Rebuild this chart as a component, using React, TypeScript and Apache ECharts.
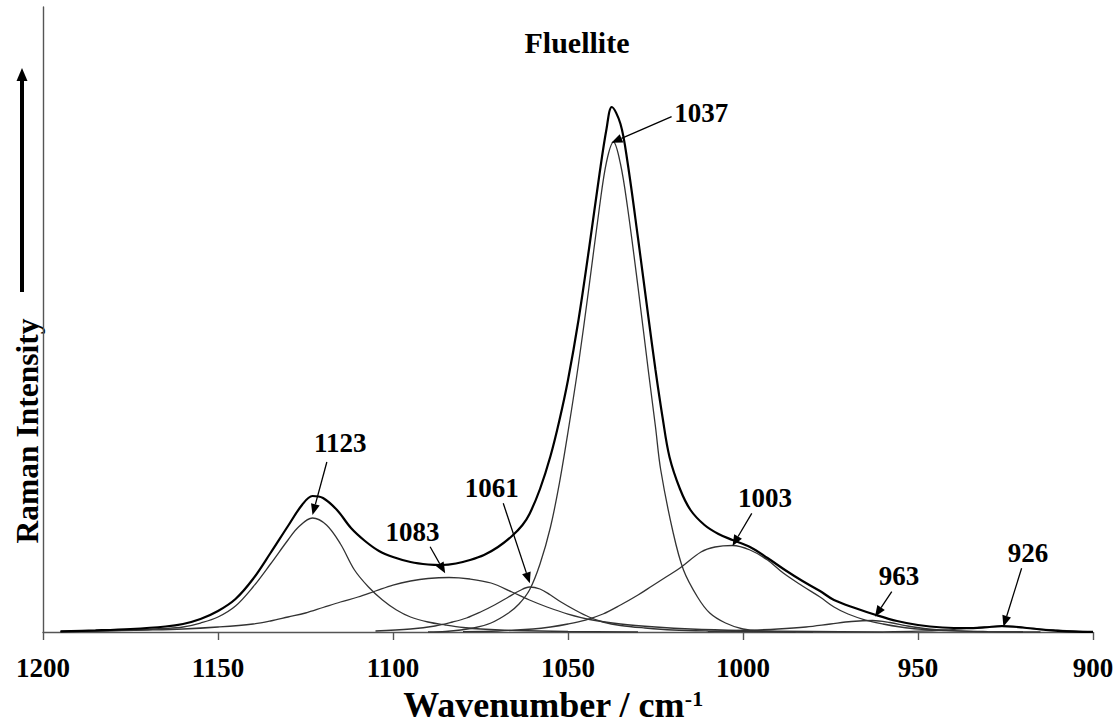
import React, { useEffect, useRef } from "react";
import * as echarts from "echarts";

type Pt = [number, number];

const SERIF = '"Liberation Serif", "Times New Roman", serif';

// Fitted band components: [wavenumber / cm-1, intensity (a.u.)]
const band1123: Pt[] = [
  [1195, 0.3], [1185, 1], [1175, 2], [1165, 3.5], [1160, 5], [1155, 9], [1150, 15], [1145, 26],
  [1140, 45], [1135, 68], [1130, 92], [1127, 105], [1123, 114], [1119, 107], [1115, 88], [1111, 62],
  [1107, 45], [1103, 32], [1099, 22], [1095, 15], [1090, 10], [1085, 7], [1080, 4.5], [1075, 3],
  [1065, 1.5], [1050, 0.5], [1030, 0],
];

const band1083: Pt[] = [
  [1195, 0.5], [1185, 1], [1170, 2], [1160, 3], [1150, 5], [1140, 8], [1135, 11], [1130, 15],
  [1125, 19], [1120, 24.5], [1115, 30], [1110, 35], [1105, 41], [1100, 47], [1095, 51], [1090, 53.5],
  [1084, 54.5], [1078, 53], [1072, 49], [1066, 40], [1061, 32], [1056, 25], [1050, 18], [1043, 12],
  [1035, 8], [1025, 5], [1015, 3], [1000, 1.5], [980, 0.5], [960, 0],
];

const band1061: Pt[] = [
  [1105, 1], [1095, 3], [1088, 6], [1083, 10], [1079, 14], [1075, 20], [1071, 27], [1067, 35],
  [1064, 41], [1061, 45], [1058, 43], [1055, 37], [1052, 30], [1048, 22], [1044, 15], [1040, 10],
  [1035, 6.5], [1028, 4], [1020, 2], [1010, 1], [995, 0.3], [980, 0],
];

const band1037: Pt[] = [
  [1090, 0], [1085, 0.5], [1077, 4], [1072, 9], [1067, 19], [1064, 28], [1061, 42], [1058, 68],
  [1055, 105], [1052.5, 148], [1050, 200], [1047, 268], [1044, 345], [1041, 425], [1039, 470],
  [1037, 490], [1035, 468], [1033, 425], [1030, 345], [1027, 260], [1025, 205], [1023.5, 162],
  [1020, 100], [1017, 62], [1013, 35], [1009.5, 19], [1005, 9], [1000, 3], [995, 1], [985, 0],
];

const band1003: Pt[] = [
  [1080, 0.3], [1070, 1], [1060, 3], [1055, 5], [1050, 8], [1045, 12], [1040, 18], [1035, 27],
  [1030, 37], [1026, 46], [1022, 55], [1018, 64], [1012, 80], [1008, 85], [1003, 86.5], [998, 82],
  [993, 72], [988.5, 59], [983, 46], [978, 35], [974, 25], [970, 18], [965, 12], [960, 8],
  [955, 5], [950, 3], [940, 1.2], [930, 0.4], [915, 0],
];

const band963: Pt[] = [
  [1010, 0.5], [1000, 1.5], [990, 3], [982, 5], [975, 8], [969, 10.5], [963, 11.5], [958, 9.5],
  [953, 6], [947, 3], [940, 1.3], [930, 0.4], [920, 0],
];

const band926: Pt[] = [
  [960, 0.2], [950, 0.8], [942, 2], [935, 3.8], [930, 5], [926, 5.5], [922, 5], [917, 3.5],
  [911, 2], [905, 0.8], [900, 0.3],
];

// Measured envelope (sum of all bands)
const envelope: Pt[] = [
  [1195, 0.6], [1185, 1.6], [1175, 3], [1165, 5.5], [1160, 8], [1155, 13], [1150, 21], [1145, 33],
  [1140, 53], [1135, 79], [1130, 106], [1126, 127], [1123, 136], [1120, 134], [1116, 122],
  [1112, 104], [1108, 91], [1104, 81], [1100, 75], [1095, 70], [1090, 67.5], [1086, 67],
  [1082, 68.5], [1078, 72], [1074, 77], [1070, 85], [1066, 96], [1063, 107], [1061, 118],
  [1058, 143], [1055, 176], [1052.5, 211], [1050, 252], [1047, 312], [1044, 383], [1041, 458],
  [1039, 503], [1037.5, 525], [1035, 508], [1033, 470], [1030, 394], [1027, 314], [1025, 262],
  [1023, 215], [1021, 175], [1018, 143], [1015, 122], [1011, 107], [1007, 98], [1003, 92],
  [998, 85], [993, 74], [988, 62], [983, 51], [978, 41], [974, 32], [968, 24], [962, 17],
  [956, 11], [950, 7], [943, 4.5], [936, 3.8], [931, 4.6], [926, 6], [920, 4.5], [915, 2.5],
  [910, 1.2], [905, 0.4], [900, 0.2],
];

const components: Pt[][] = [band1123, band1083, band1061, band1037, band1003, band963, band926];

// Band annotations: text, text anchor, arrow start and arrow tip (data units)
const bandLabels = ["1123", "1083", "1061", "1037", "1003", "963", "926"];
const labelAt: Pt[] = [
  [1115.1, 189], [1094.4, 100.3], [1071.8, 144], [1011.9, 519], [993.7, 134], [955.4, 56], [918.6, 79.5],
];
const arrowFrom: Pt[] = [
  [1118.9, 170], [1089.4, 85.3], [1068.5, 128.7], [1020.4, 515.3], [997.5, 118.7], [957.5, 40.3], [920.4, 63.7],
];
const arrowTo: Pt[] = [
  [1123, 117], [1085.1, 58.7], [1060.9, 48.7], [1037.6, 489.3], [1003, 86], [962.3, 15.3], [925.6, 5.3],
];

const xMin = 900;
const xMax = 1200;
const xStep = 50;
const yMax = 625;

export default function App() {
  const ref = useRef<HTMLDivElement>(null);

  useEffect(() => {
    if (!ref.current) return;
    const chart = echarts.init(ref.current, null, { renderer: "svg" });

    const series: any[] = components.map((d, i) => ({
      type: "line",
      name: "band" + bandLabels[i],
      data: d,
      showSymbol: false,
      smooth: 0.35,
      lineStyle: { color: "#333", width: 1.3 },
      z: 2,
    }));
    series.push({
      type: "line",
      name: "envelope",
      data: envelope,
      showSymbol: false,
      smooth: 0.35,
      lineStyle: { color: "#000", width: 2.2 },
      z: 3,
    });

    chart.setOption({
      animation: false,
      backgroundColor: "#fff",
      grid: { left: 43, right: 27, top: 7, bottom: 95 },
      xAxis: {
        type: "value",
        min: xMin,
        max: xMax,
        interval: xStep,
        inverse: true,
        axisLine: { show: true, lineStyle: { color: "#555", width: 1.4 } },
        axisTick: { show: true, length: 8, inside: false, lineStyle: { color: "#555", width: 1.4 } },
        splitLine: { show: false },
        axisLabel: {
          margin: 22,
          color: "#000",
          fontFamily: SERIF,
          fontWeight: "bold",
          fontSize: 27,
          formatter: (v: number) => String(v),
        },
      },
      yAxis: {
        type: "value",
        min: 0,
        max: yMax,
        axisLine: { show: true, lineStyle: { color: "#555", width: 1.4 } },
        axisTick: { show: false },
        axisLabel: { show: false },
        splitLine: { show: false },
      },
      series,
    });

    const toPx = (p: Pt) => chart.convertToPixel({ gridIndex: 0 }, p) as number[];
    const graphics: any[] = [];

    // Title
    graphics.push({
      type: "text",
      x: 577,
      y: 42,
      style: {
        text: "Fluellite",
        fontFamily: SERIF,
        fontWeight: "bold",
        fontSize: 30,
        fill: "#000",
        align: "center",
        verticalAlign: "middle",
      },
    });

    // X axis title with superscript
    graphics.push({
      type: "text",
      x: 553,
      y: 705,
      style: {
        text: "Wavenumber / cm{sup|-1}",
        fontFamily: SERIF,
        fontWeight: "bold",
        fontSize: 36,
        fill: "#000",
        align: "center",
        verticalAlign: "middle",
        rich: {
          sup: { fontFamily: SERIF, fontWeight: "bold", fontSize: 22, verticalAlign: "top", fill: "#000" },
        },
      },
    });

    // Y axis title and upward arrow
    graphics.push({
      type: "text",
      x: 27,
      y: 431,
      rotation: Math.PI / 2,
      style: {
        text: "Raman Intensity",
        fontFamily: SERIF,
        fontWeight: "bold",
        fontSize: 31.5,
        fill: "#000",
        align: "center",
        verticalAlign: "middle",
      },
    });
    graphics.push({ type: "rect", shape: { x: 20, y: 79, width: 4, height: 213 }, style: { fill: "#000" } });
    graphics.push({
      type: "polygon",
      shape: { points: [[22, 68], [16.5, 81], [27.5, 81]] },
      style: { fill: "#000" },
    });

    // Band labels with arrows
    bandLabels.forEach((label, i) => {
      const t = toPx(labelAt[i]);
      const a = toPx(arrowFrom[i]);
      const b = toPx(arrowTo[i]);
      const dx = b[0] - a[0];
      const dy = b[1] - a[1];
      const len = Math.hypot(dx, dy) || 1;
      const ux = dx / len;
      const uy = dy / len;
      const headL = 11;
      const headW = 4.5;
      const bx = b[0] - ux * headL;
      const by = b[1] - uy * headL;
      graphics.push({
        type: "text",
        x: t[0],
        y: t[1],
        z: 10,
        style: {
          text: label,
          fontFamily: SERIF,
          fontWeight: "bold",
          fontSize: 27,
          fill: "#000",
          align: "center",
          verticalAlign: "middle",
        },
      });
      graphics.push({
        type: "line",
        z: 10,
        shape: { x1: a[0], y1: a[1], x2: bx, y2: by },
        style: { stroke: "#000", lineWidth: 1.3 },
      });
      graphics.push({
        type: "polygon",
        z: 10,
        shape: {
          points: [
            [b[0], b[1]],
            [bx - uy * headW, by + ux * headW],
            [bx + uy * headW, by - ux * headW],
          ],
        },
        style: { fill: "#000" },
      });
    });

    chart.setOption({ graphic: graphics });

    return () => {
      chart.dispose();
    };
  }, []);

  return (
    <div
      ref={ref}
      style={{ position: "fixed", left: 0, top: 0, width: 1120, height: 727, background: "#fff" }}
    />
  );
}
